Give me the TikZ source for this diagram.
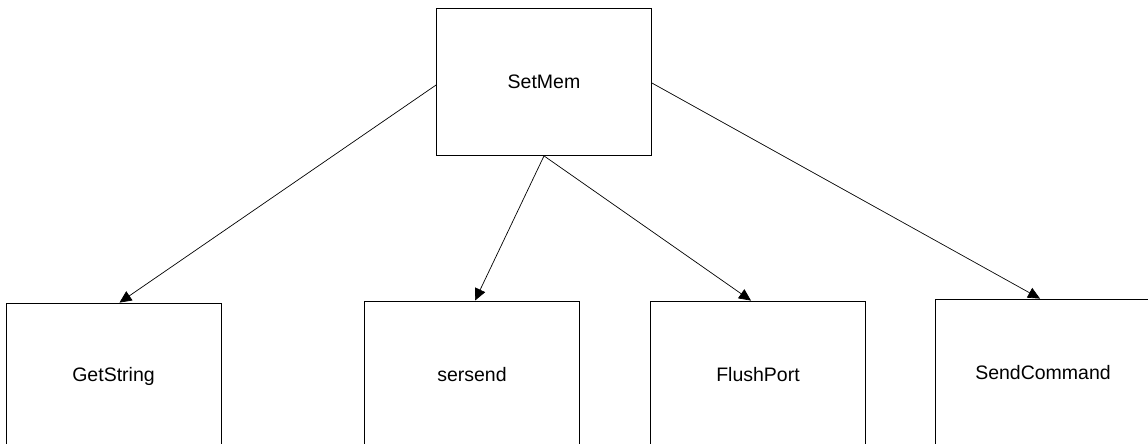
\documentclass[tikz,border=0pt]{standalone}
\usepackage{fontspec}
\setmainfont{Liberation Sans}
\usetikzlibrary{arrows.meta}

\tikzstyle{func} = [draw, line width=0.8pt, minimum width=215pt, minimum height=147pt, font=\fontsize{19.5}{22}\selectfont]
\tikzstyle{call} = [line width=0.7pt, -{Triangle[length=12pt,width=11pt]}]

\begin{document}
\begin{tikzpicture}[x=1pt,y=-1pt]
\useasboundingbox (0,0) rectangle (1148,444);
%caller
\node[func] (setmem) at (544,82) {SetMem};
%callees
\node[func] (getstring) at (113.5,376.5) {GetString};
\node[func] (sersend) at (472,374.5) {sersend};
\node[func] (flushport) at (758,374.5) {FlushPort};
\node[func] (sendcmd) at (1043,372.5) {SendCommand};
%calls
\draw[call] ([yshift=-3pt]setmem.west) -- ([xshift=6pt]getstring.north);
\draw[call] (setmem.south) -- ([xshift=3pt]sersend.north);
\draw[call] (setmem.south) -- ([xshift=-7pt]flushport.north);
\draw[call] ([yshift=-1pt]setmem.east) -- ([xshift=-3pt]sendcmd.north);
\end{tikzpicture}
\end{document}
